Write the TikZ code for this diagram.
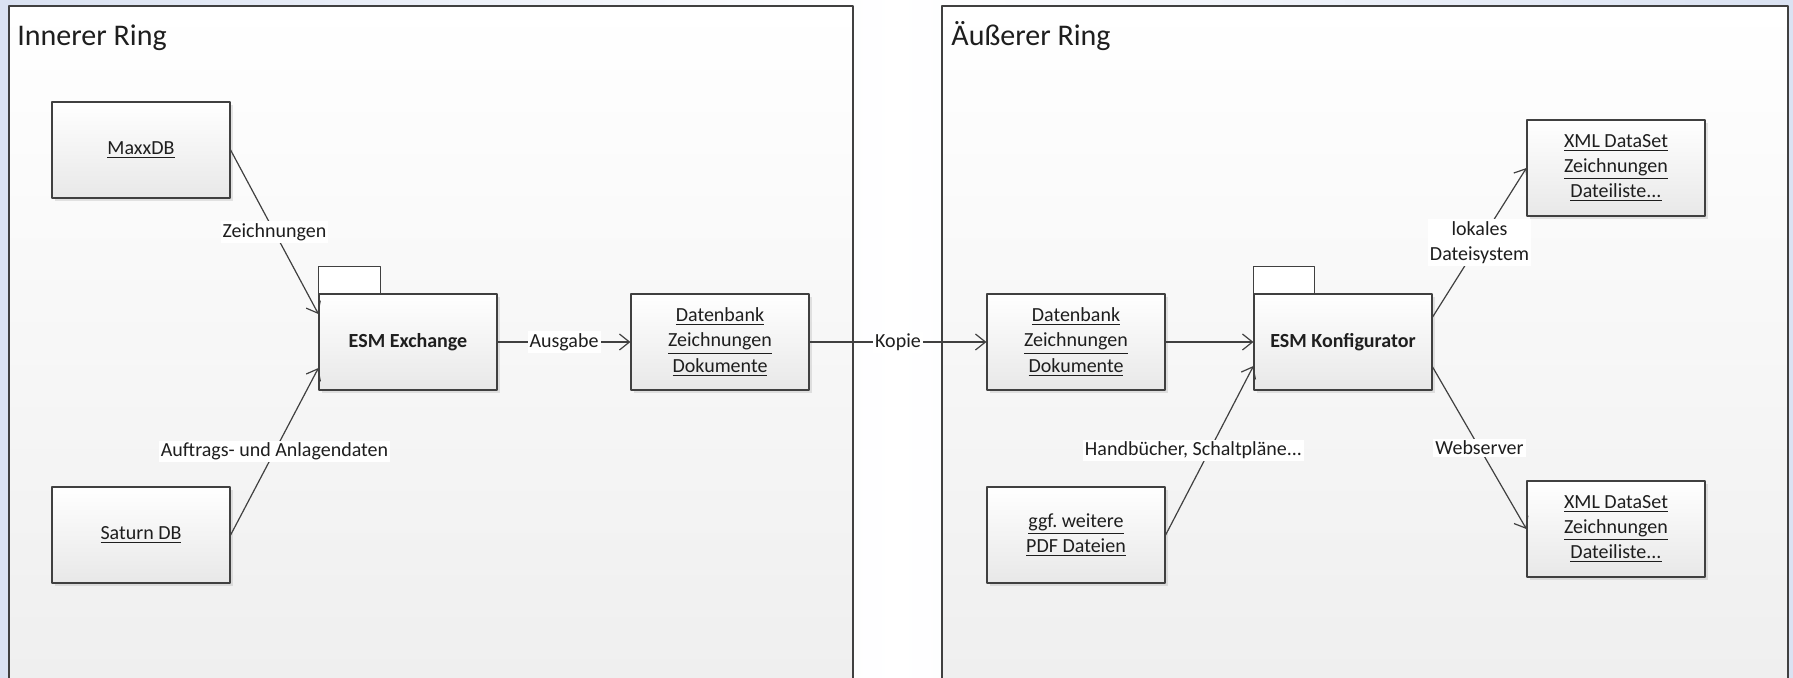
\documentclass[tikz,border=0pt]{standalone}
\usepackage{fontspec}
\setmainfont{Carlito}
\frenchspacing
\usetikzlibrary{arrows.meta,shadows}
\definecolor{bgblue}{RGB}{218,226,242}
\definecolor{framegray}{RGB}{64,64,64}
\definecolor{txtgray}{RGB}{30,30,30}
\definecolor{boxbottom}{RGB}{232,232,232}
\definecolor{ringbottom}{RGB}{239,239,239}
\begin{document}
\begin{tikzpicture}[x=.5pt,y=-.5pt,line join=round,line cap=round,
  >={Straight Barb[length=5pt,width=8pt]},
  font=\fontsize{10}{12.6}\selectfont,text=txtgray,
  box/.style={draw=framegray,line width=.6pt,top color=white,bottom color=boxbottom,
    minimum width=89pt,minimum height=48pt,align=center,inner sep=2pt,
    drop shadow={shadow xshift=1.5pt,shadow yshift=-1.5pt,opacity=.2}},
  pkg/.style={box,font=\fontsize{10}{12.6}\selectfont\bfseries},
  tab/.style={draw=framegray,line width=.6pt,fill=white},
  lbl/.style={fill=white,inner sep=1pt},
  conn/.style={->,draw=framegray,line width=.6pt},
  ringtitle/.style={anchor=base west,inner sep=0pt,font=\fontsize{15}{18}\selectfont}]
\useasboundingbox (0,0) rectangle (1793,677);
\shade[left color=bgblue,right color=bgblue,middle color=white] (0,0) rectangle (1793,677);
% the two rings
\shade[top color=white,bottom color=ringbottom] (9,6) rectangle (853,680);
\draw[framegray,line width=.8pt] (9,680)--(9,6)--(853,6)--(853,680);
\shade[top color=white,bottom color=ringbottom] (942,6) rectangle (1788,680);
\draw[framegray,line width=.8pt] (942,680)--(942,6)--(1788,6)--(1788,680);
\node[ringtitle] (inner) at (17,45) {Innerer Ring};
\node[ringtitle] (outer) at (951,45) {Äußerer Ring};
% inner ring
\node[box] (maxx) at (141,150) {\underline{MaxxDB}};
\node[box] (saturn) at (141,535) {\underline{Saturn DB}};
\node[pkg] (exchange) at (408,342) {ESM Exchange};
\draw[tab] (exchange.north west) rectangle ++(62,-27);
\node[box] (bank) at (720,342) {\underline{Datenbank}\\\underline{Zeichnungen}\\\underline{Dokumente}};
% outer ring
\node[box] (copy) at (1076,342) {\underline{Datenbank}\\\underline{Zeichnungen}\\\underline{Dokumente}};
\node[pkg] (konf) at (1343,342) {ESM Konfigurator};
\draw[tab] (konf.north west) rectangle ++(61,-27);
\node[box] (pdf) at (1076,535) {\underline{ggf. weitere}\\\underline{PDF Dateien}};
\node[box] (xmllocal) at (1616,168) {\underline{XML DataSet}\\\underline{Zeichnungen}\\\underline{Dateiliste...}};
\node[box] (xmlweb) at (1616,529) {\underline{XML DataSet}\\\underline{Zeichnungen}\\\underline{Dateiliste...}};
% connectors
\draw[conn] (maxx.east) -- node[lbl]{Zeichnungen} ([yshift=14pt]exchange.west);
\draw[conn] (saturn.east) -- node[lbl]{Auftrags- und Anlagendaten} ([yshift=-13pt]exchange.west);
\draw[conn] (exchange) -- node[lbl]{Ausgabe} (bank);
\draw[conn] (bank) -- node[lbl]{Kopie} (copy);
\draw[conn] (copy) -- (konf);
\draw[conn] (pdf.east) -- node[lbl,xshift=-8pt]{Handbücher, Schaltpläne...} ([yshift=-12pt]konf.west);
\draw[conn] ([yshift=12.5pt]konf.east) -- node[lbl,align=center]{lokales\\Dateisystem} (xmllocal.west);
\draw[conn] ([yshift=-12.5pt]konf.east) -- node[lbl]{Webserver} (xmlweb.west);
\end{tikzpicture}
\end{document}
